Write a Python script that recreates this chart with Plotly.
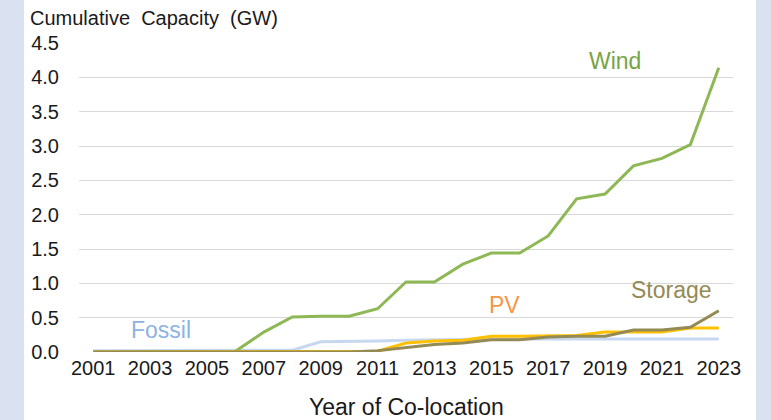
import plotly.graph_objects as go

years = list(range(2001, 2024))
wind = [0, 0, 0, 0, 0, 0.01, 0.29, 0.51, 0.52, 0.52, 0.63, 1.02, 1.02, 1.28, 1.44, 1.44, 1.69, 2.23, 2.30, 2.71, 2.82, 3.02, 4.14]
fossil = [0.02, 0.02, 0.02, 0.02, 0.02, 0.02, 0.02, 0.025, 0.15, 0.15, 0.16, 0.17, 0.18, 0.19, 0.19, 0.19, 0.19, 0.19, 0.19, 0.19, 0.19, 0.19, 0.19]
pv = [0, 0, 0, 0, 0, 0, 0, 0, 0, 0, 0.01, 0.13, 0.16, 0.17, 0.23, 0.23, 0.23, 0.24, 0.29, 0.29, 0.29, 0.35, 0.35]
storage = [0, 0, 0, 0, 0, 0, 0, 0, 0, 0, 0.02, 0.07, 0.11, 0.13, 0.18, 0.18, 0.22, 0.23, 0.23, 0.32, 0.32, 0.36, 0.60]
x_ticks = list(range(2001, 2024, 2))
y_ticks = [0, 0.5, 1.0, 1.5, 2.0, 2.5, 3.0, 3.5, 4.0, 4.5]

FONT = "Liberation Sans, Arial, sans-serif"

fig = go.Figure()
fig.add_trace(go.Scatter(x=years, y=fossil, mode="lines", line=dict(color="#C6D7EF", width=3)))
fig.add_trace(go.Scatter(x=years, y=wind, mode="lines", line=dict(color="#8DB855", width=3)))
fig.add_trace(go.Scatter(x=years, y=pv, mode="lines", line=dict(color="#FFC000", width=3)))
fig.add_trace(go.Scatter(x=years, y=storage, mode="lines", line=dict(color="#948A54", width=3)))

labels = [
    ("Wind", 2019.34, 4.24, "#77A443"),
    ("PV", 2015.46, 0.68, "#F79646"),
    ("Storage", 2021.32, 0.90, "#948A54"),
    ("Fossil", 2003.37, 0.317, "#8DB3E2"),
]
for txt, xx, yy, col in labels:
    fig.add_annotation(x=xx, y=yy, text=txt, showarrow=False, xref="x", yref="y",
                       font=dict(family=FONT, size=23, color=col), xanchor="center", yanchor="middle")

L, R, T, B = 79, 38, 43, 68
W, H = 771, 420
pw = W - L - R
ph = H - T - B

fig.add_annotation(x=0.5, y=(352 - 407) / ph, xref="paper", yref="paper", text="Year of Co-location",
                   showarrow=False, font=dict(family=FONT, size=23, color="#1a1a1a"),
                   xanchor="center", yanchor="middle")

fig.add_shape(type="rect", xref="paper", yref="paper", x0=(24 - L) / pw, x1=(756 - L) / pw,
              y0=-1, y1=2, fillcolor="white", line=dict(width=0), layer="below")

fig.update_layout(
    width=W, height=H,
    margin=dict(l=L, r=R, t=T, b=B),
    paper_bgcolor="#DAE1F1",
    plot_bgcolor="white",
    showlegend=False,
    title=dict(text="Cumulative\u00a0\u00a0Capacity\u00a0\u00a0(GW)", x=30 / W, xanchor="left", xref="container",
               y=1 - 18 / H, yanchor="middle", yref="container",
               font=dict(family=FONT, size=20, color="#1a1a1a")),
    font=dict(family=FONT, color="#1a1a1a"),
)
fig.update_xaxes(range=[2000.5, 2023.5], tickvals=x_ticks, ticktext=[str(v) for v in x_ticks],
                 showgrid=False, zeroline=False, showline=False,
                 ticks="", ticklabelstandoff=2,
                 tickfont=dict(family=FONT, size=20, color="#1a1a1a"))
fig.update_yaxes(range=[0, 4.5], tickvals=y_ticks, ticktext=[f"{v:.1f}" for v in y_ticks],
                 showgrid=True, gridcolor="#D9D9D9", gridwidth=1, zeroline=False, showline=False,
                 ticks="outside", ticklen=15, tickcolor="rgba(0,0,0,0)",
                 tickfont=dict(family=FONT, size=20, color="#1a1a1a"))

fig.write_html("out.html", config={"displayModeBar": False},
               post_script="document.body.style.margin='0px';document.body.style.overflow='hidden';")
